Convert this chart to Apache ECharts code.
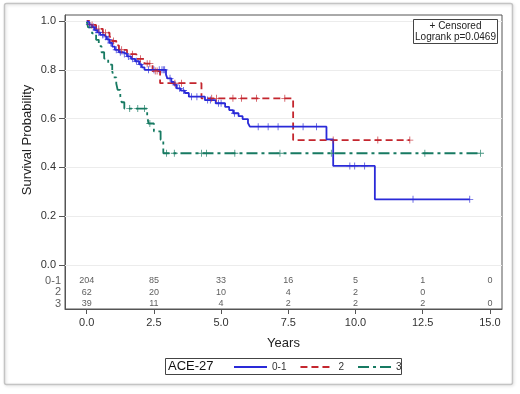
<!DOCTYPE html>
<html>
<head>
<meta charset="utf-8">
<script src="https://cdn.jsdelivr.net/npm/echarts@6/dist/echarts.min.js"></script>
<style>
  html, body { margin: 0; padding: 0; background: #fff; }
  #chart { width: 520px; height: 394px; }
</style>
</head>
<body>
<div id="chart"></div>
<script>
  // axis ticks
  var xTicks = [0, 2.5, 5, 7.5, 10, 12.5, 15];
  var yTicks = [0, 0.2, 0.4, 0.6, 0.8, 1.0];

  // KM steps: [time, survival after event]
  var steps01 = [[0,1],[0.05,0.995],[0.1,0.985],[0.2,0.975],[0.3,0.963],[0.4,0.953],[0.5,0.943],
    [0.65,0.935],[0.75,0.925],[0.85,0.91],[0.95,0.895],[1.05,0.882],[1.2,0.872],[1.35,0.865],
    [1.5,0.855],[1.65,0.845],[1.8,0.835],[1.95,0.822],[2.05,0.81],[2.15,0.8],[2.95,0.78],
    [3.0,0.765],[3.15,0.75],[3.25,0.738],[3.35,0.724],[3.5,0.715],[3.65,0.705],[3.8,0.69],
    [4.4,0.676],[4.8,0.663],[5.15,0.648],[5.3,0.635],[5.45,0.622],[5.65,0.61],[5.8,0.598],
    [6.0,0.582],[6.07,0.567],[8.92,0.515],[9.17,0.406],[10.72,0.269],[14.25,0.269]];
  var steps2 = [[0,1],[0.1,0.984],[0.35,0.968],[0.6,0.952],[0.85,0.935],[0.95,0.918],[1.1,0.9],
    [1.2,0.882],[1.5,0.864],[1.85,0.845],[2.15,0.825],[2.45,0.795],[2.73,0.745],[4.27,0.683],
    [7.68,0.512],[12.02,0.512]];
  var steps3 = [[0,1],[0.05,0.974],[0.2,0.949],[0.35,0.923],[0.45,0.897],[0.55,0.872],[0.65,0.846],
    [0.8,0.821],[0.95,0.795],[1.0,0.769],[1.1,0.744],[1.15,0.718],[1.25,0.692],[1.3,0.667],
    [1.4,0.641],[2.25,0.61],[2.3,0.58],[2.5,0.548],[2.75,0.513],[2.85,0.458],[14.65,0.458]];

  // censoring times
  var cens01 = [0.1,0.25,0.35,0.45,0.6,0.7,0.8,0.9,1.1,1.25,1.4,1.55,1.7,1.85,2.0,2.3,2.5,2.7,
    2.8,2.85,2.9,3.1,3.3,3.45,3.6,3.9,4.1,4.5,4.6,4.9,5.0,5.5,6.38,6.75,7.12,8.05,8.55,9.79,
    9.97,10.34,12.14,14.25];
  var cens2 = [0.2,0.45,0.7,1.0,1.3,1.7,2.0,2.25,2.35,2.55,2.62,3.28,3.53,4.65,4.83,5.44,5.76,
    6.32,7.37,9.17,10.83,12.02];
  var cens3 = [1.6,1.9,2.15,2.35,2.97,3.26,4.27,4.46,5.51,7.19,9.1,12.58,14.65];

  // number at risk
  var riskTimes = [0, 2.5, 5, 7.5, 10, 12.5, 15];
  var risk01 = [204, 85, 33, 16, 5, 1, 0];
  var risk2 = [62, 20, 10, 4, 2, 0];
  var risk3 = [39, 11, 4, 2, 2, 2, 0];

  var groups = ['0-1', '2', '3'];
  var colors = ['#2a2ad8', '#c4262e', '#177a62'];

  var X_MIN = -0.807, X_MAX = 15.45;
  var Y_MIN = -0.1803, Y_MAX = 1.0246;
  var rowY = [-0.0656, -0.111, -0.158];
  var plus = 'path://M0,4.4h10v1.2h-10z M4.4,0h1.2v10h-1.2z';

  function survAt(steps, t) {
    var s = steps[0][1];
    for (var i = 0; i < steps.length; i++) {
      if (steps[i][0] <= t) s = steps[i][1];
    }
    return s;
  }

  function censData(steps, times) {
    return times.map(function (t) { return [t, survAt(steps, t)]; });
  }

  function riskData(vals, y) {
    return vals.map(function (v, i) { return [riskTimes[i], y, v]; });
  }

  var chart = echarts.init(document.getElementById('chart'));
  var font = 'Liberation Sans, Arial, sans-serif';
  var allSteps = [steps01, steps2, steps3];
  var allCens = [cens01, cens2, cens3];
  var allRisk = [risk01, risk2, risk3];
  var dashes = ['solid', [7, 4], [11, 4, 3, 4]];

  var series = [];
  // faint grid lines
  series.push({
    type: 'scatter', data: [], silent: true,
    markLine: {
      silent: true, symbol: 'none', label: { show: false },
      lineStyle: { color: '#ececec', type: 'solid', width: 1 },
      data: yTicks.map(function (v) { return { yAxis: v }; })
    }
  });
  groups.forEach(function (g, i) {
    series.push({
      name: g, type: 'line', step: 'end', data: allSteps[i],
      symbol: 'none', showSymbol: false, z: 3 - i + 2,
      color: colors[i],
      lineStyle: { color: colors[i], width: 1.8, type: dashes[i] }
    });
  });
  groups.forEach(function (g, i) {
    series.push({
      type: 'scatter', data: censData(allSteps[i], allCens[i]),
      symbol: plus, symbolSize: 7, z: 6,
      itemStyle: { color: colors[i] }
    });
  });
  groups.forEach(function (g, i) {
    series.push({
      type: 'scatter', data: riskData(allRisk[i], rowY[i]),
      symbolSize: 0, silent: true,
      label: {
        show: true, position: 'inside', fontSize: 9, fontFamily: font, color: '#333',
        formatter: function (p) { return p.data[2]; }
      }
    });
    series.push({
      type: 'scatter', data: [[X_MIN, rowY[i]]],
      symbolSize: 0, silent: true,
      label: {
        show: true, position: 'left', distance: 4, fontSize: 11, fontFamily: font, color: '#333',
        formatter: g
      }
    });
  });

  var option = {
    animation: false,
    backgroundColor: '#fff',
    textStyle: { fontFamily: font },
    grid: {
      left: 65, right: 18, top: 15, bottom: 85,
      show: true, borderColor: '#555', borderWidth: 1
    },
    legend: {
      data: groups, left: 228, top: 357,
      itemWidth: 33, itemHeight: 10, itemGap: 13,
      itemStyle: { opacity: 0 },
      textStyle: { fontSize: 10, color: '#333', fontFamily: font }
    },
    xAxis: {
      type: 'value', min: X_MIN, max: X_MAX,
      name: 'Years', nameLocation: 'middle', nameGap: 28,
      nameTextStyle: { fontSize: 13, color: '#222', fontFamily: font },
      axisLine: { show: true, onZero: false, lineStyle: { color: '#555' } },
      axisTick: { show: true, length: 5, customValues: xTicks, lineStyle: { color: '#555' } },
      axisLabel: {
        customValues: xTicks, margin: 8, fontSize: 11, color: '#333',
        formatter: function (v) { return v.toFixed(1); }
      },
      splitLine: { show: false }
    },
    yAxis: {
      type: 'value', min: Y_MIN, max: Y_MAX,
      axisLine: { show: true, onZero: false, lineStyle: { color: '#555' } },
      axisTick: { show: true, length: 6, customValues: yTicks, lineStyle: { color: '#555' } },
      axisLabel: {
        customValues: yTicks, margin: 9, fontSize: 11, color: '#333',
        formatter: function (v) { return v.toFixed(1); }
      },
      splitLine: { show: false }
    },
    graphic: [
      {
        type: 'rect', shape: { x: 4.5, y: 3.5, width: 508, height: 381, r: 2 },
        style: { fill: 'none', stroke: '#c4c4c4', lineWidth: 1.5,
          shadowColor: 'rgba(0,0,0,0.15)', shadowBlur: 3, shadowOffsetX: 1, shadowOffsetY: 1 },
        z: -1
      },
      {
        type: 'text', x: 27, y: 140, rotation: Math.PI / 2,
        style: { text: 'Survival Probability', fontSize: 13, fill: '#222', fontFamily: font,
          align: 'center', verticalAlign: 'middle' }
      },
      {
        type: 'rect', shape: { x: 413.5, y: 19.5, width: 84, height: 24 },
        style: { fill: '#fff', stroke: '#444', lineWidth: 1 }, z: 10
      },
      {
        type: 'text', x: 455.5, y: 26, z: 11,
        style: { text: '+ Censored', fontSize: 10, fill: '#222', fontFamily: font,
          align: 'center', verticalAlign: 'middle' }
      },
      {
        type: 'text', x: 455.5, y: 37.5, z: 11,
        style: { text: 'Logrank p=0.0469', fontSize: 10, fill: '#222', fontFamily: font,
          align: 'center', verticalAlign: 'middle' }
      },
      {
        type: 'rect', shape: { x: 165.5, y: 358.5, width: 236, height: 16 },
        style: { fill: 'none', stroke: '#444', lineWidth: 1 }
      },
      {
        type: 'text', x: 168, y: 366.5,
        style: { text: 'ACE-27', fontSize: 13, fill: '#111', fontFamily: font,
          verticalAlign: 'middle' }
      }
    ],
    series: series
  };
  chart.setOption(option);
</script>
</body>
</html>
